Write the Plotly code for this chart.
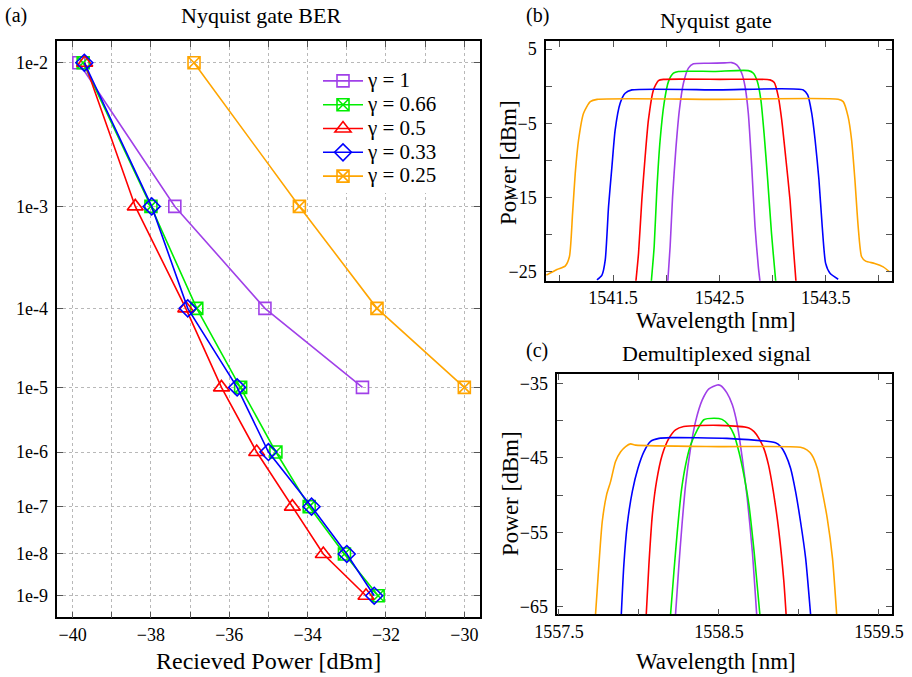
import numpy as np
import plotly.graph_objects as go

# ---------------- data: (a) BER curves ----------------
ber_all = [1e-2, 1e-3, 1e-4, 1e-5, 1e-6, 1e-7, 1e-8, 1e-9]
ber_short = [1e-2, 1e-3, 1e-4, 1e-5]
pw_g1 = [-39.84, -37.39, -35.09, -32.60]
pw_g066 = [-39.73, -38.00, -36.83, -35.71, -34.81, -33.96, -33.06, -32.20]
pw_g05 = [-39.69, -38.40, -37.11, -36.20, -35.30, -34.39, -33.60, -32.51]
pw_g033 = [-39.70, -37.98, -37.06, -35.80, -35.00, -33.90, -33.00, -32.30]
pw_g025 = [-36.90, -34.21, -32.23, -30.00]

ber_ticks = [1e-2, 1e-3, 1e-4, 1e-5, 1e-6, 1e-7, 1e-8, 1e-9]
ber_tick_labels = ["1e-2", "1e-3", "1e-4", "1e-5", "1e-6", "1e-7", "1e-8", "1e-9"]
pw_ticks = [-40, -39, -38, -37, -36, -35, -34, -33, -32, -31, -30]
pw_tick_labels = ["−40", "", "−38", "", "−36", "", "−34", "", "−32", "", "−30"]

# ---------------- data: (b) Nyquist gate spectra ----------------
b_wl_g1 = [1542.015, 1542.037, 1542.060, 1542.090, 1542.124, 1542.162, 1542.209, 1542.256, 1542.40, 1542.55, 1542.616,
           1542.663, 1542.710, 1542.741, 1542.772, 1542.804, 1542.835, 1542.866, 1542.882]
b_pw_g1 = [-26.3, -21.6, -14.9, -8.6, -3.19, 0.41, 2.44, 3.02, 3.1, 3.15, 3.19,
           2.88, 1.76, 0.0, -3.63, -10.8, -18.9, -24.3, -26.3]
b_wl_g066 = [1541.860, 1541.887, 1541.912, 1541.943, 1541.980, 1542.021, 1542.068, 1542.115, 1542.45, 1542.772,
             1542.820, 1542.857, 1542.890, 1542.920, 1542.954, 1542.990, 1543.023, 1543.030]
b_pw_g066 = [-26.3, -21.6, -14.0, -7.24, -2.29, 0.63, 1.76, 2.0, 2.0, 2.11,
             1.76, 0.63, -1.84, -6.33, -12.6, -19.8, -25.2, -26.3]
b_wl_g05 = [1541.715, 1541.740, 1541.771, 1541.802, 1541.833, 1541.880, 1541.927, 1541.974, 1542.5, 1542.976,
            1543.016, 1543.054, 1543.086, 1543.123, 1543.164, 1543.195, 1543.220]
b_pw_g05 = [-26.3, -22.5, -15.3, -9.5, -4.54, -0.49, 0.77, 0.93, 0.93, 0.86,
            0.5, -1.4, -4.54, -9.5, -15.3, -21.6, -26.3]
b_wl_g033 = [1541.349, 1541.396, 1541.427, 1541.458, 1541.490, 1541.520, 1541.567, 1541.614, 1541.677, 1542.5, 1543.289,
             1543.330, 1543.368, 1543.400, 1543.436, 1543.467, 1543.499, 1543.540, 1543.617]
b_pw_g033 = [-26.1, -25.45, -23.4, -16.2, -10.8, -5.9, -2.29, -0.94, -0.49, -0.49, -0.49,
             -1.17, -3.63, -7.24, -12.6, -18.93, -23.87, -25.2, -26.0]
b_wl_g025 = [1540.873, 1540.973, 1541.050, 1541.090, 1541.120, 1541.145, 1541.176, 1541.223, 1541.286, 1541.350, 1542.5,
             1543.617, 1543.664, 1543.710, 1543.743, 1543.774, 1543.805, 1543.837, 1543.875, 1543.960, 1544.040, 1544.100]
b_pw_g025 = [-25.45, -24.68, -24.23, -22.97, -17.1, -11.7, -7.24, -3.63, -2.07, -1.77, -1.77,
             -1.75, -2.07, -4.09, -7.24, -12.6, -18.93, -22.97, -23.56, -23.87, -24.33, -25.0]

# ---------------- data: (c) demultiplexed spectra ----------------
c_wl_g1 = [1558.229, 1558.250, 1558.271, 1558.292, 1558.323, 1558.354, 1558.396, 1558.4375, 1558.49, 1558.51,
           1558.550, 1558.584, 1558.615, 1558.646, 1558.677, 1558.709, 1558.736]
c_pw_g1 = [-66.0, -59.4, -53.55, -48.6, -43.7, -40.15, -37.24, -35.76, -35.23, -35.3,
           -36.3, -37.9, -40.6, -45.05, -50.4, -57.6, -66.0]
c_wl_g066 = [1558.198, 1558.219, 1558.240, 1558.265, 1558.292, 1558.323, 1558.365, 1558.406, 1558.469, 1558.52,
             1558.560, 1558.594, 1558.625, 1558.656, 1558.6875, 1558.720, 1558.756]
c_pw_g066 = [-66.0, -60.25, -54.9, -49.5, -45.95, -43.3, -41.26, -39.9, -39.7, -39.85,
             -40.6, -41.9, -44.2, -47.3, -51.3, -57.6, -66.0]
c_wl_g05 = [1558.046, 1558.0625, 1558.084, 1558.110, 1558.146, 1558.1875, 1558.229, 1558.280, 1558.5, 1558.6875,
            1558.720, 1558.750, 1558.780, 1558.810, 1558.840, 1558.875, 1558.906, 1558.920]
c_pw_g05 = [-66.0, -59.35, -52.65, -48.2, -44.6, -42.4, -41.26, -40.8, -40.65, -41.0,
            -41.5, -42.4, -43.7, -45.95, -49.5, -54.9, -61.6, -66.0]
c_wl_g033 = [1557.890, 1557.906, 1557.927, 1557.959, 1557.994, 1558.031, 1558.073, 1558.125, 1558.198, 1558.55, 1558.854,
             1558.886, 1558.917, 1558.948, 1558.979, 1559.010, 1559.042, 1559.073]
c_pw_g033 = [-66.0, -59.35, -54.0, -49.5, -46.4, -44.2, -42.8, -42.4, -42.3, -42.4, -43.0,
             -43.5, -44.6, -46.4, -49.5, -53.55, -58.46, -66.0]
c_wl_g025 = [1557.729, 1557.750, 1557.771, 1557.798, 1557.823, 1557.854, 1557.886, 1557.917, 1557.948, 1557.98,
             1558.5, 1559.010, 1559.050, 1559.080, 1559.115, 1559.146, 1559.177, 1559.210, 1559.236]
c_pw_g025 = [-66.0, -59.35, -53.55, -49.97, -48.2, -45.5, -44.2, -43.5, -43.14, -43.3,
             -43.5, -43.58, -43.94, -44.6, -46.4, -49.5, -53.1, -58.5, -66.0]

b_x_ticks = [1541.0, 1541.5, 1542.0, 1542.5, 1543.0, 1543.5, 1544.0]
b_x_labels = ["", "1541.5", "", "1542.5", "", "1543.5", ""]
b_y_ticks = [-25, -20, -15, -10, -5, 0, 5]
b_y_labels = ["−25", "", "−15", "", "−5", "", "5"]
c_x_ticks = [1557.5, 1558.0, 1558.5, 1559.0, 1559.5]
c_x_labels = ["1557.5", "", "1558.5", "", "1559.5"]
c_y_ticks = [-65, -60, -55, -50, -45, -40, -35]
c_y_labels = ["−65", "", "−55", "", "−45", "", "−35"]

names = ["γ = 1", "γ = 0.66", "γ = 0.5", "γ = 0.33", "γ = 0.25"]
colors = ["#a040e8", "#00ee00", "#ff0000", "#0000ff", "#ffa500"]
symbols = ["square-open", "square-x-open", "triangle-up-open", "diamond-open", "square-x-open"]


def qscale(b):
    return np.log10(-np.log10(np.asarray(b, dtype=float)))


FONT = "Liberation Serif"
W, H = 912, 677

fig = go.Figure()

ber_sets = [(pw_g1, ber_short), (pw_g066, ber_all), (pw_g05, ber_all), (pw_g033, ber_all), (pw_g025, ber_short)]
msizes = [12, 12, 14, 13, 12]
for (pw, ber), nm, col, sym, ms in zip(ber_sets, names, colors, symbols, msizes):
    fig.add_trace(go.Scatter(x=pw, y=qscale(ber), mode="lines+markers",
                             name='<span style="font-size:21px">' + nm + "</span>",
                             line=dict(color=col, width=1.6),
                             marker=dict(symbol=sym, size=ms, color=col, line=dict(width=1.6, color=col)),
                             xaxis="x", yaxis="y", showlegend=True))

b_sets = [(b_wl_g1, b_pw_g1), (b_wl_g066, b_pw_g066), (b_wl_g05, b_pw_g05), (b_wl_g033, b_pw_g033), (b_wl_g025, b_pw_g025)]
for (wl, pw), col in zip(b_sets, colors):
    fig.add_trace(go.Scatter(x=wl, y=pw, mode="lines", line=dict(color=col, width=1.6, shape="spline", smoothing=0.6),
                             xaxis="x2", yaxis="y2", showlegend=False))

c_sets = [(c_wl_g1, c_pw_g1), (c_wl_g066, c_pw_g066), (c_wl_g05, c_pw_g05), (c_wl_g033, c_pw_g033), (c_wl_g025, c_pw_g025)]
for (wl, pw), col in zip(c_sets, colors):
    fig.add_trace(go.Scatter(x=wl, y=pw, mode="lines", line=dict(color=col, width=1.6, shape="spline", smoothing=0.6),
                             xaxis="x3", yaxis="y3", showlegend=False))


def px(x):
    return x / W


def py(y):
    return 1 - y / H


common = dict(showline=True, linecolor="black", linewidth=1.5, mirror="ticks", ticks="inside",
              ticklen=6, tickcolor="#555", tickwidth=1, zeroline=False, automargin=False,
              tickfont=dict(family=FONT, size=18, color="black"))

fig.update_layout(
    template="none",
    width=W, height=H, margin=dict(l=0, r=0, t=0, b=0, pad=0, autoexpand=False),
    paper_bgcolor="white", plot_bgcolor="white",
    font=dict(family=FONT, color="black"),
    xaxis=dict(domain=[px(57.3), px(480)], range=[-40.39, -29.6], tickvals=pw_ticks, ticktext=pw_tick_labels,
               showgrid=True, gridcolor="#b8b8b8", griddash="dot", gridwidth=1, anchor="y", **common),
    yaxis=dict(domain=[py(617.3), py(41)], range=[0.9807, 0.2744], tickvals=list(qscale(ber_ticks)),
               ticktext=ber_tick_labels, showgrid=True, gridcolor="#b8b8b8", griddash="dot", gridwidth=1,
               anchor="x", ticklabelstandoff=4, **common),
    xaxis2=dict(domain=[px(546), px(891.7)], range=[1540.87, 1544.12], tickvals=b_x_ticks, ticktext=b_x_labels,
                showgrid=False, anchor="y2", **common),
    yaxis2=dict(domain=[py(280.7), py(41)], range=[-26.2, 6.1], tickvals=b_y_ticks, ticktext=b_y_labels,
                showgrid=False, anchor="x2", ticklabelstandoff=4, **common),
    xaxis3=dict(domain=[px(557.3), px(891.7)], range=[1557.49, 1559.58], tickvals=c_x_ticks, ticktext=c_x_labels,
                showgrid=False, anchor="y3", **common),
    yaxis3=dict(domain=[py(614.3), py(374.3)], range=[-66.0, -33.8], tickvals=c_y_ticks, ticktext=c_y_labels,
                showgrid=False, anchor="x3", ticklabelstandoff=4, **common),
    legend=dict(x=px(318), y=py(64), xanchor="left", yanchor="top", bgcolor="white", borderwidth=0,
                font=dict(family=FONT, size=16, color="black"), tracegroupgap=0, itemwidth=40),
)

ann = [
    ("(a)", 16, 16, 20, 0),
    ("Nyquist gate BER", 261, 16, 22, 0),
    ("(b)", 537, 16, 20, 0),
    ("Nyquist gate", 716, 21, 22, 0),
    ("(c)", 537, 350, 20, 0),
    ("Demultiplexed signal", 716, 353, 22, 0),
    ("Recieved Power [dBm]", 268, 661, 24, 0),
    ("Wavelength [nm]", 716, 320, 23, 0),
    ("Wavelength [nm]", 716, 661, 23, 0),
    ("Power [dBm]", 509, 163, 23, -90),
    ("Power [dBm]", 510, 494, 23, -90),
]
for t, x, y, s, rot in ann:
    fig.add_annotation(text=t, x=px(x), y=py(y), xref="paper", yref="paper", showarrow=False,
                       xanchor="center", yanchor="middle", textangle=rot,
                       font=dict(family=FONT, size=s, color="black"))

fig.write_html("out.html")
